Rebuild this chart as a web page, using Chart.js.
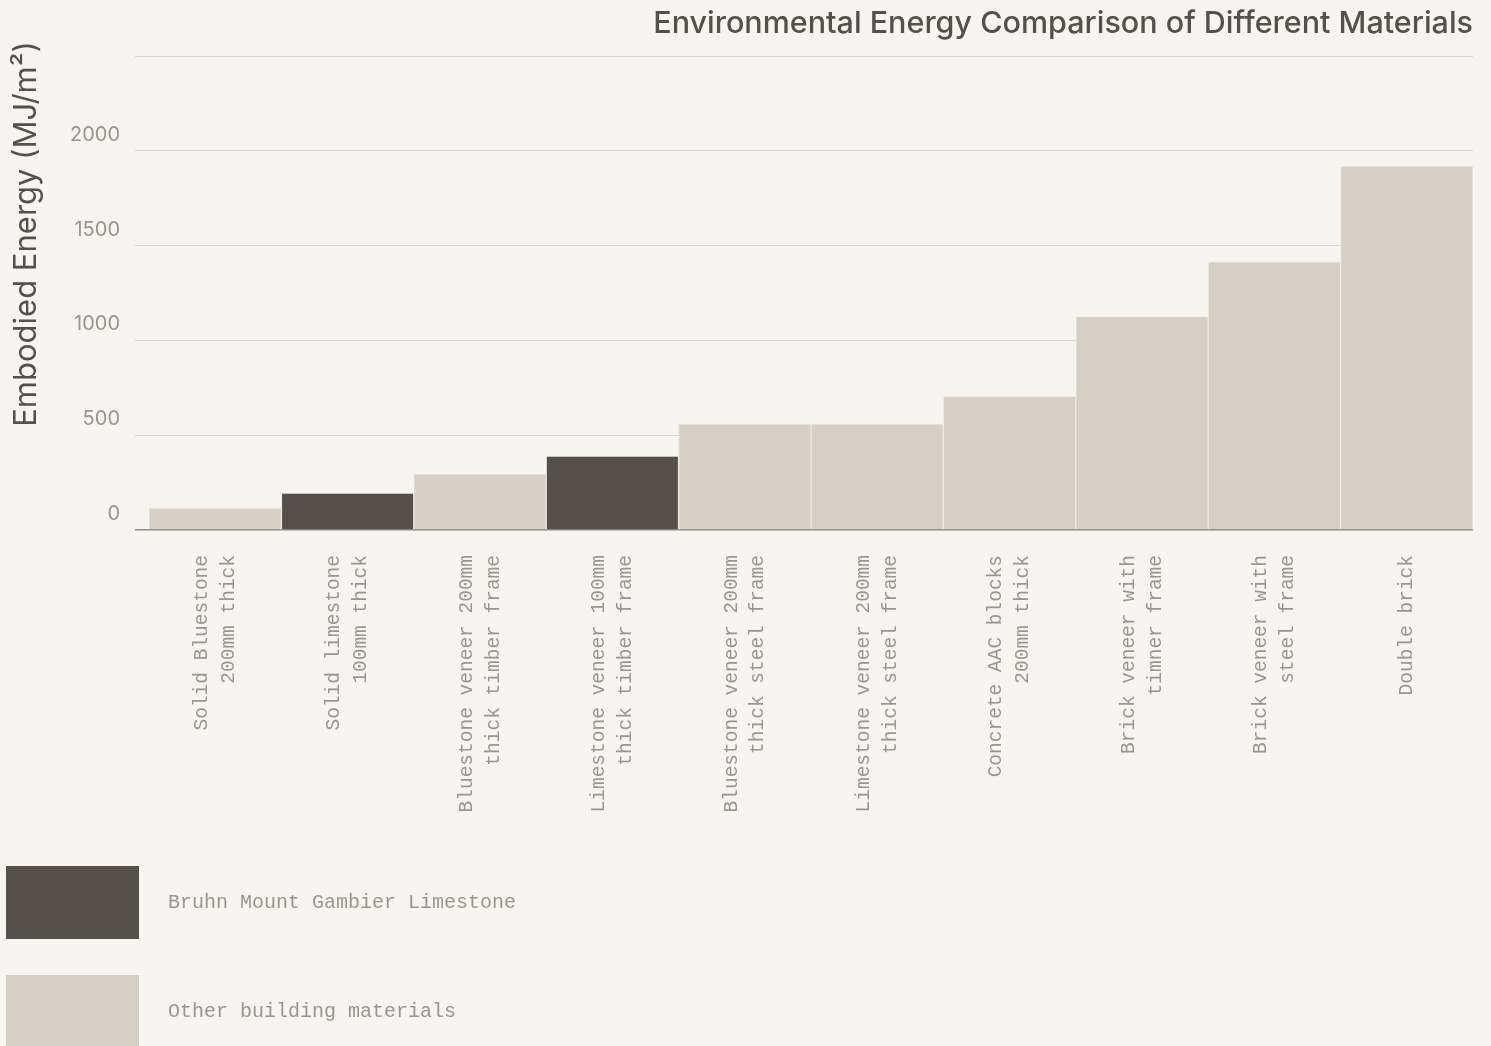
<!DOCTYPE html>
<html>
<head>
<meta charset="utf-8">
<script src="https://cdn.jsdelivr.net/npm/chart.js@4.4.1/dist/chart.umd.min.js"></script>
<style>
  html, body { margin: 0; padding: 0; background: #f6f5f1; }
  #wrap { position: relative; width: 1491px; height: 1046px; overflow: hidden; }
  #legend { position: absolute; left: 6px; top: 866px; }
  .item { display: flex; align-items: center; height: 73px; margin-bottom: 36px; }
  .swatch { width: 133px; height: 73px; }
  .label { margin-left: 29px; font: 20px "Liberation Mono", monospace; color: #9a968f; }
</style>
</head>
<body>
<div id="wrap">
  <canvas id="myChart"></canvas>
  <div id="legend"></div>
</div>
<script>
const categories = [
  ['Solid Bluestone', '200mm thick'],
  ['Solid limestone', '100mm thick'],
  ['Bluestone veneer 200mm', 'thick timber frame'],
  ['Limestone veneer 100mm', 'thick timber frame'],
  ['Bluestone veneer 200mm', 'thick steel frame'],
  ['Limestone veneer 200mm', 'thick steel frame'],
  ['Concrete AAC blocks', '200mm thick'],
  ['Brick veneer with', 'timner frame'],
  ['Brick veneer with', 'steel frame'],
  ['Double brick'],
];
const limestoneValues = [null, 195, null, 390, null, null, null, null, null, null];
const otherValues = [115, null, 295, null, 560, 560, 705, 1125, 1415, 1920];
const yTicks = [0, 500, 1000, 1500, 2000, 2500];

const dark = '#55504b';
const light = '#d6cfc4';

// y axis title drawn by hand so it sits where the original one is
const yTitle = {
  id: 'yTitle',
  afterDraw(chart) {
    const c = chart.ctx;
    c.save();
    c.translate(27, 234);
    c.rotate(-Math.PI / 2);
    c.font = '31px Inter';
    c.fillStyle = dark;
    c.textAlign = 'center';
    c.textBaseline = 'middle';
    c.fillText('Embodied Energy (MJ/m²)', 0, 0);
    c.restore();
  },
};

// center two-line rotated labels on their bar (chart.js puts the first line on the tick)
const centerLabels = {
  id: 'centerLabels',
  beforeDraw(chart) {
    const sc = chart.scales.x;
    const items = sc.getLabelItems(chart.chartArea);
    items.forEach((it) => {
      if (Array.isArray(it.label) && it.label.length > 1 && !it._moved) {
        it.options.translation[0] -= ((it.label.length - 1) * it.font.lineHeight) / 2;
        it._moved = true;
      }
    });
  },
};

var ctx = document.getElementById('myChart').getContext('2d');
var myChart = new Chart(ctx, {
  type: 'bar',
  data: {
    labels: categories,
    datasets: [
      {
        label: 'Bruhn Mount Gambier Limestone',
        data: limestoneValues,
        backgroundColor: dark,
        borderColor: '#efebe3',
        borderWidth: 1,
        barPercentage: 1,
        categoryPercentage: 1,
      },
      {
        label: 'Other building materials',
        data: otherValues,
        backgroundColor: light,
        borderColor: '#efebe3',
        borderWidth: 1,
        barPercentage: 1,
        categoryPercentage: 1,
      },
    ],
  },
  options: {
    responsive: true,
    maintainAspectRatio: false,
    animation: false,
    layout: { padding: { left: 0, right: 18, top: 0, bottom: 0 } },
    plugins: {
      legend: { display: false },
      tooltip: { enabled: false },
      title: {
        display: true,
        text: 'Environmental Energy Comparison of Different Materials',
        align: 'end',
        color: dark,
        font: { family: 'Inter', size: 30.5, weight: '500' },
        padding: { top: 6, bottom: 13.4 },
      },
    },
    scales: {
      x: {
        stacked: true,
        grid: { display: false },
        border: { display: false },
        ticks: {
          autoSkip: false,
          minRotation: 90,
          maxRotation: 90,
          padding: 17,
          color: '#9a968f',
          font: { family: 'Liberation Mono', size: 19.5, lineHeight: 1.38 },
        },
        afterFit(scale) {
          scale.height = 516;
        },
      },
      y: {
        stacked: true,
        min: 0,
        max: 2500,
        afterBuildTicks(scale) {
          scale.ticks = yTicks.map((v) => ({ value: v }));
        },
        grid: {
          tickLength: 14,
          color: (c) => (c.tick && c.tick.value === 0 ? '#8f8a82' : '#dcd6cc'),
          lineWidth: (c) => (c.tick && c.tick.value === 0 ? 1.5 : 1),
        },
        border: { display: false },
        ticks: {
          padding: 15,
          labelOffset: -16,
          color: '#9a968f',
          font: { family: 'Inter', size: 20 },
          callback: (v) => (v === 2500 ? '' : v),
        },
        afterFit(scale) {
          scale.width = 149;
        },
      },
    },
  },
  plugins: [yTitle, centerLabels],
});

// legend below the chart
const legendBox = document.getElementById('legend');
myChart.data.datasets.forEach((ds) => {
  const item = document.createElement('div');
  item.className = 'item';
  const sw = document.createElement('div');
  sw.className = 'swatch';
  sw.style.background = ds.backgroundColor;
  const lb = document.createElement('div');
  lb.className = 'label';
  lb.textContent = ds.label;
  item.appendChild(sw);
  item.appendChild(lb);
  legendBox.appendChild(item);
});
</script>
</body>
</html>
